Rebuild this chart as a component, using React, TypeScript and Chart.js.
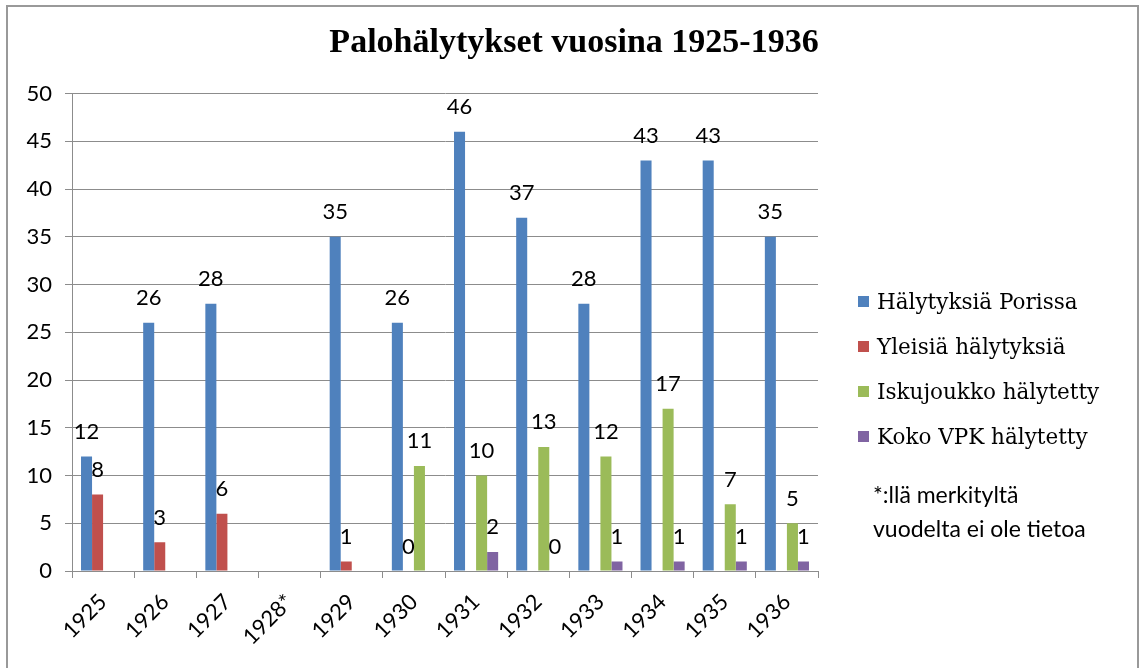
import React, { useEffect, useRef } from "react";
import { Chart, registerables } from "chart.js";

Chart.register(...registerables);

// ---- data ----
const categories = ["1925", "1926", "1927", "1928*", "1929", "1930", "1931", "1932", "1933", "1934", "1935", "1936"];
const halytyksiaPorissa = [12, 26, 28, null, 35, 26, 46, 37, 28, 43, 43, 35];
const yleisiaHalytyksia = [8, 3, 6, null, 1, 0, null, null, null, null, null, null];
const iskujoukkoHalytetty = [null, null, null, null, null, 11, 10, 13, 12, 17, 7, 5];
const kokoVpkHalytetty = [null, null, null, null, null, null, 2, 0, 1, 1, 1, 1];
const seriesNames = ["Hälytyksiä Porissa", "Yleisiä hälytyksiä", "Iskujoukko hälytetty", "Koko VPK hälytetty"];
const seriesColors = ["#4F81BD", "#C0504D", "#9BBB59", "#8064A2"];
const yMin = 0;
const yMax = 50;
const yStep = 5;
const titleText = "Palohälytykset vuosina 1925-1936";
const footnoteLines = ["*:llä merkityltä", "vuodelta ei ole tietoa"];

const SANS = "Lato, 'Open Sans', sans-serif";

const valueLabelPlugin = {
  id: "valueLabels",
  afterDatasetsDraw(chart: any) {
    const ctx = chart.ctx;
    ctx.save();
    ctx.font = `22px ${SANS}`;
    ctx.fillStyle = "#000";
    ctx.textAlign = "center";
    ctx.textBaseline = "alphabetic";
    chart.data.datasets.forEach((ds: any, i: number) => {
      const meta = chart.getDatasetMeta(i);
      meta.data.forEach((el: any, j: number) => {
        const v = ds.data[j];
        if (v === null || v === undefined) return;
        ctx.fillText(String(v), el.x, el.y - 17.5);
      });
    });
    ctx.restore();
  },
};

const sideLegendPlugin = {
  id: "sideLegend",
  afterDraw(chart: any) {
    const ctx = chart.ctx;
    const right = chart.chartArea.right;
    ctx.save();
    const boxX = right + 40;
    const textX = right + 59;
    const firstCenter = 301.5;
    const step = 45;
    chart.data.datasets.forEach((ds: any, i: number) => {
      const cy = firstCenter + i * step;
      ctx.fillStyle = ds.backgroundColor;
      ctx.fillRect(boxX, cy - 5.5, 11, 11);
      ctx.fillStyle = "#000";
      ctx.font = `21.5px 'DejaVu Serif', serif`;
      ctx.textAlign = "left";
      ctx.textBaseline = "alphabetic";
      ctx.fillText(ds.label, textX, cy + 7.5);
    });
    ctx.font = `23px ${SANS}`;
    ctx.fillStyle = "#000";
    footnoteLines.forEach((line, k) => {
      ctx.fillText(line, right + 55, 503 + k * 34);
    });
    ctx.restore();
  },
};

export default function App() {
  const canvasRef = useRef<HTMLCanvasElement | null>(null);

  useEffect(() => {
    const canvas = canvasRef.current;
    if (!canvas) return;
    const seriesValues = [halytyksiaPorissa, yleisiaHalytyksia, iskujoukkoHalytetty, kokoVpkHalytetty];
    const chart = new Chart(canvas, {
      type: "bar",
      data: {
        labels: categories,
        datasets: seriesNames.map((name, i) => ({
          label: name,
          data: seriesValues[i],
          backgroundColor: seriesColors[i],
          borderWidth: 0,
          categoryPercentage: 0.71,
          barPercentage: 1,
        })),
      },
      options: {
        animation: false,
        responsive: false,
        devicePixelRatio: 1,
        layout: { padding: { left: 9, right: 0, top: 0, bottom: 0 } },
        plugins: {
          legend: { display: false },
          tooltip: { enabled: false },
          title: {
            display: true,
            text: titleText,
            color: "#000",
            font: { family: "'Liberation Serif', serif", size: 34, weight: "bold", lineHeight: 1.2 },
            padding: { top: 22.4, bottom: 30.4 },
          },
        },
        scales: {
          x: {
            grid: { display: true, drawOnChartArea: false, drawTicks: true, tickLength: 7, color: "#8c8c8c", offset: true },
            border: { display: true, color: "#8c8c8c" },
            ticks: {
              color: "#000",
              font: { family: SANS, size: 22 },
              maxRotation: 45,
              minRotation: 45,
              padding: 11,
              autoSkip: false,
            },
            afterFit: (s: any) => {
              s.height = 97;
            },
          },
          y: {
            min: yMin,
            max: yMax,
            ticks: { stepSize: yStep, color: "#000", font: { family: SANS, size: 22 }, padding: 13 },
            grid: { color: "#8c8c8c", drawTicks: true, tickLength: 7 },
            border: { display: true, color: "#8c8c8c" },
            afterFit: (s: any) => {
              s.width = 63;
            },
          },
          yRight: {
            type: "linear",
            position: "right",
            display: true,
            grid: { display: false },
            border: { display: false },
            ticks: { display: false },
            afterFit: (s: any) => {
              s.width = 321;
            },
          },
        },
      },
      plugins: [valueLabelPlugin, sideLegendPlugin],
    } as any);
    return () => chart.destroy();
  }, []);

  return (
    <div style={{ position: "absolute", left: 0, top: 0, width: 1139, height: 668, overflow: "hidden", background: "#fff" }}>
      <div
        style={{
          position: "absolute",
          left: 6,
          top: 5,
          width: 1133,
          height: 700,
          border: "2px solid #999",
          boxSizing: "border-box",
        }}
      />
      <canvas ref={canvasRef} width={1139} height={668} style={{ position: "absolute", left: 0, top: 0, width: 1139, height: 668 }} />
    </div>
  );
}
